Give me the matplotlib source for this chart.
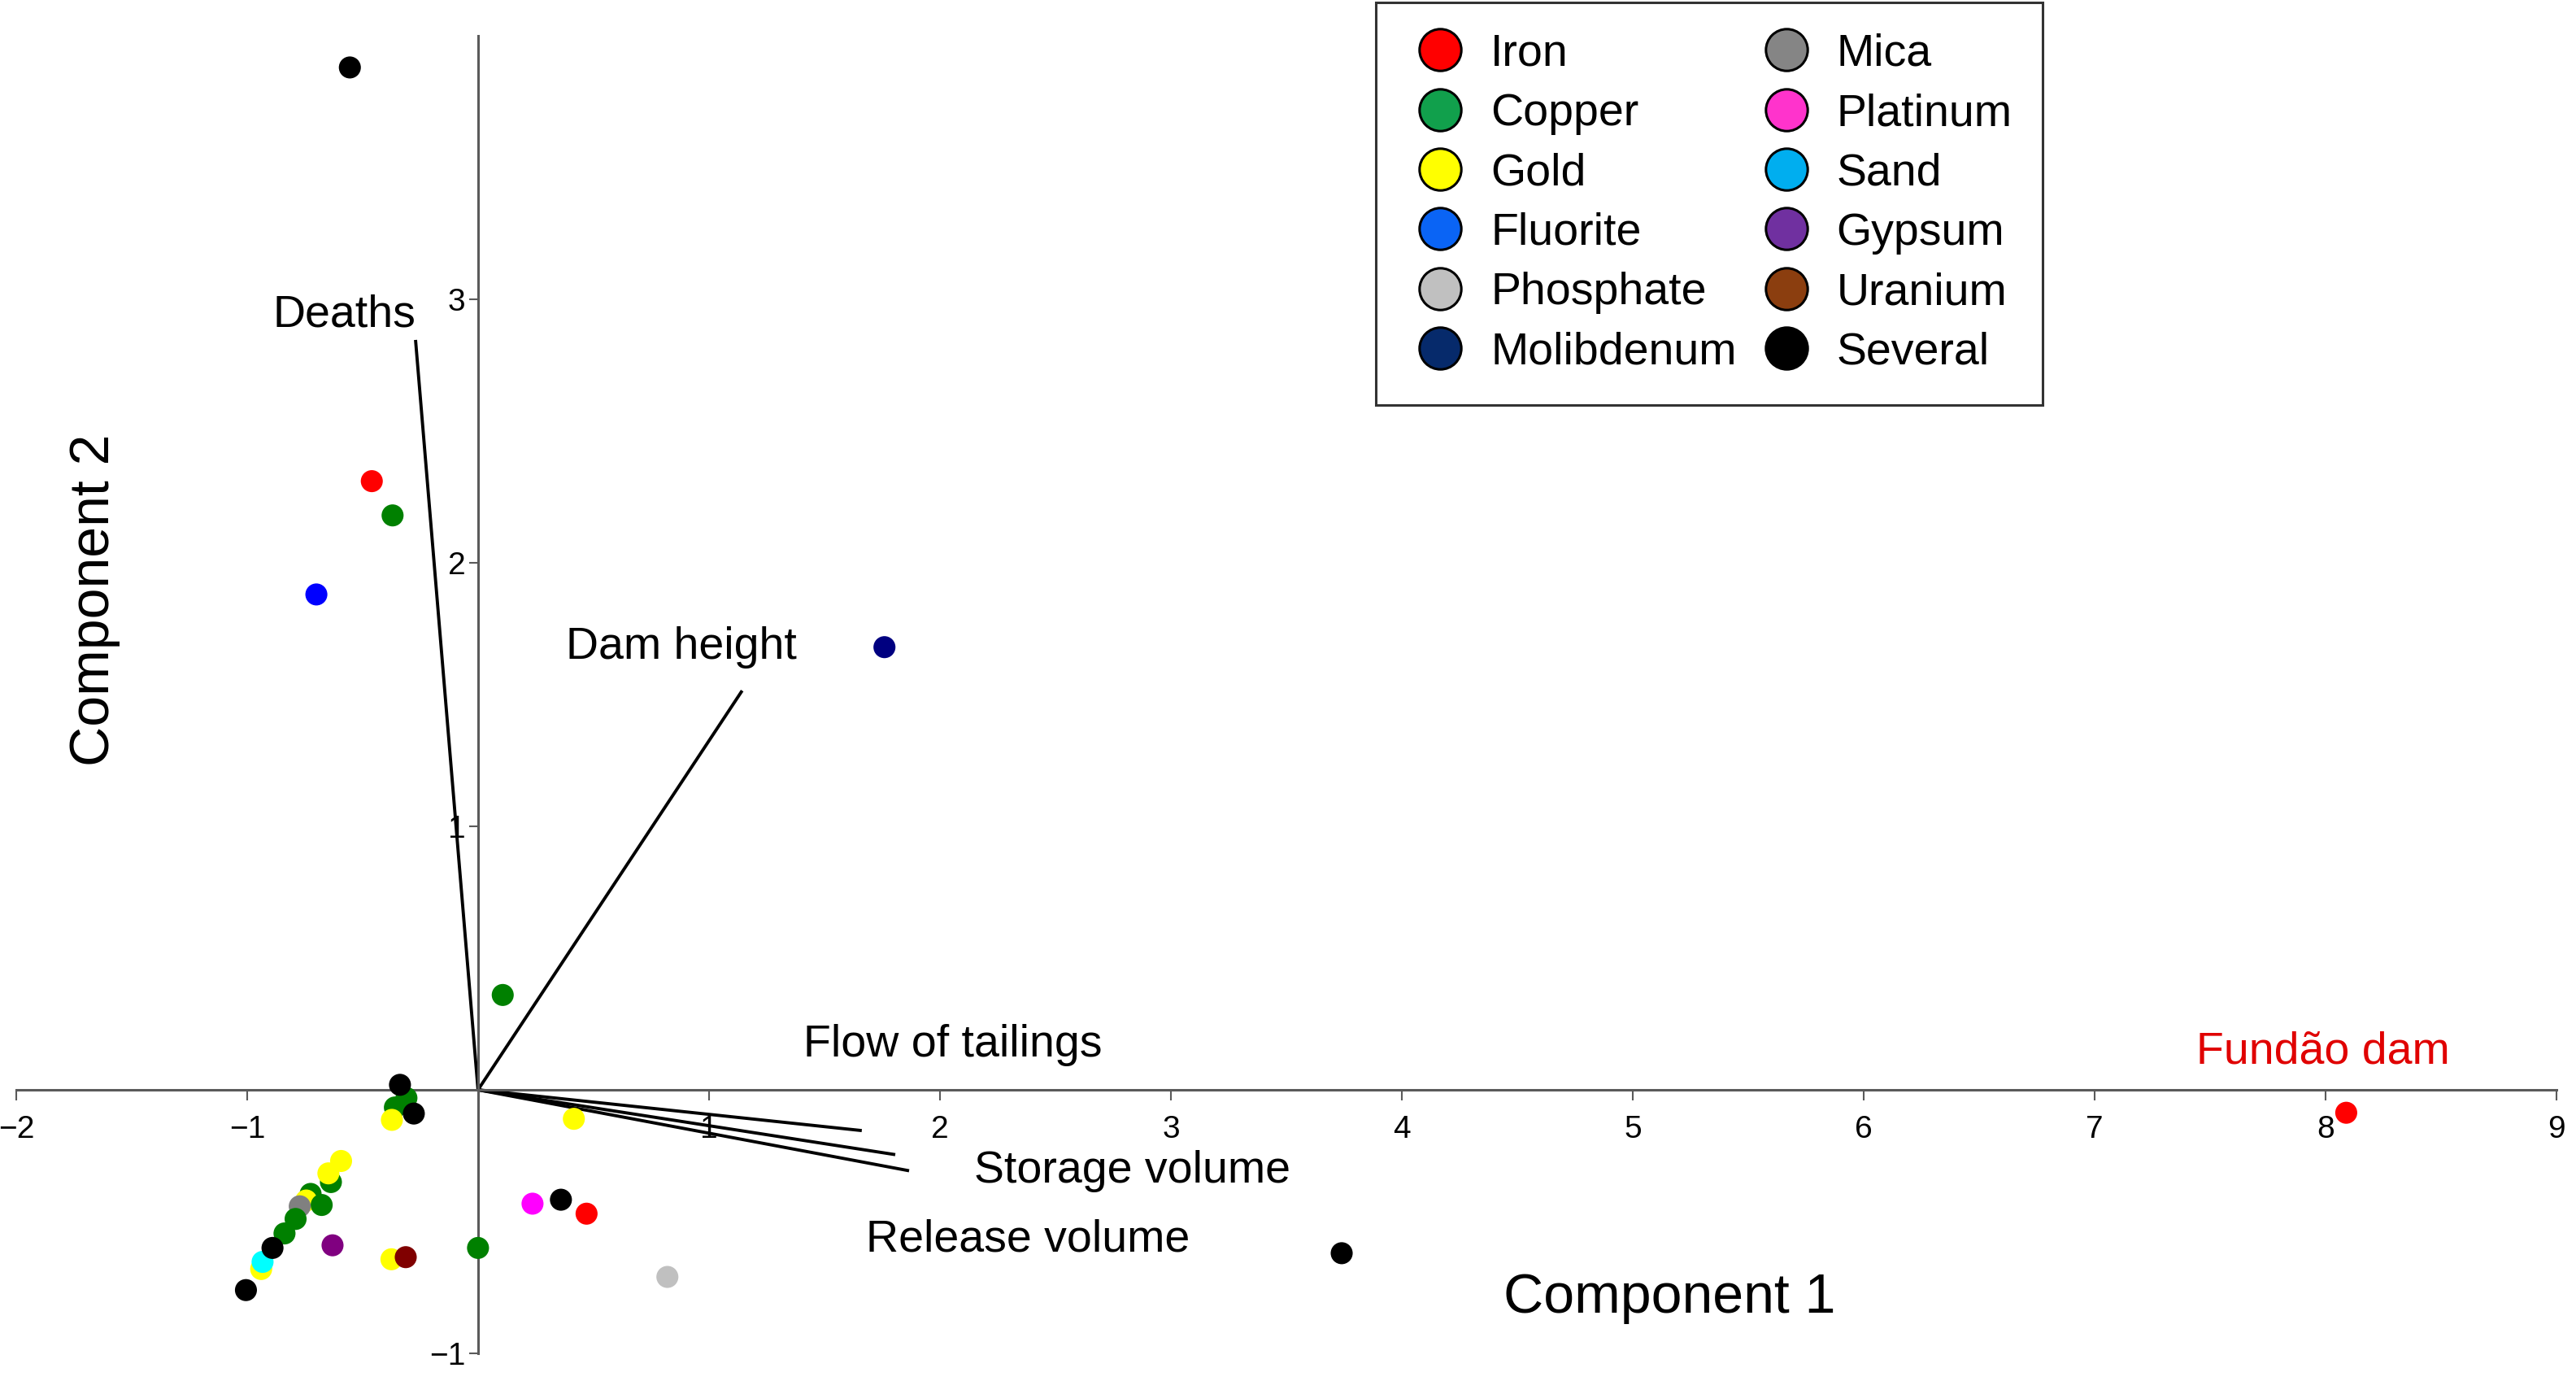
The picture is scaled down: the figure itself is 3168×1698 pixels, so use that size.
import numpy as np
import matplotlib
matplotlib.use('Agg')
import matplotlib.pyplot as plt
from matplotlib.lines import Line2D

plt.rcParams['font.family'] = ['Liberation Sans', 'DejaVu Sans']

# scores (component 1, component 2) and ore type of each dam
score_x = [-0.555, -0.46, -0.37, -0.70, 1.76, 0.107, 8.09, 3.74, 0.82,
           -0.31, -0.338, -0.36, -0.373, -0.278, 0.415,
           -0.593, -0.637, -0.648, -0.725, -0.744, -0.677, -0.772,
           -0.79, -0.838, -0.939, -0.933, -0.89, -1.005,
           -0.63, -0.375, -0.313, 0.0, 0.236, 0.359, 0.47]
score_y = [3.88, 2.31, 2.18, 1.88, 1.68, 0.36, -0.087, -0.62, -0.71,
           -0.031, 0.019, -0.067, -0.114, -0.09, -0.11,
           -0.27, -0.35, -0.317, -0.395, -0.42, -0.437, -0.442,
           -0.49, -0.545, -0.68, -0.653, -0.60, -0.76,
           -0.59, -0.643, -0.635, -0.60, -0.432, -0.417, -0.47]
ore = ['Several', 'Iron', 'Copper', 'Fluorite', 'Molibdenum', 'Copper', 'Iron', 'Several', 'Phosphate',
       'Copper', 'Several', 'Copper', 'Gold', 'Several', 'Gold',
       'Gold', 'Copper', 'Gold', 'Copper', 'Gold', 'Copper', 'Mica',
       'Copper', 'Copper', 'Gold', 'Sand', 'Several', 'Several',
       'Gypsum', 'Gold', 'Uranium', 'Copper', 'Platinum', 'Several', 'Iron']

# loadings of the variables
var_names = ['Deaths', 'Dam height', 'Flow of tailings', 'Storage volume', 'Release volume']
load_x = [-0.27, 1.14, 1.655, 1.80, 1.86]
load_y = [2.84, 1.51, -0.154, -0.245, -0.306]

# legend entries
ore_types = ['Iron', 'Copper', 'Gold', 'Fluorite', 'Phosphate', 'Molibdenum',
             'Mica', 'Platinum', 'Sand', 'Gypsum', 'Uranium', 'Several']
point_colors = {'Iron': '#ff0000', 'Copper': '#008000', 'Gold': '#ffff00', 'Fluorite': '#0000ff',
                'Phosphate': '#c0c0c0', 'Molibdenum': '#000080', 'Mica': '#808080',
                'Platinum': '#ff00ff', 'Sand': '#00ffff', 'Gypsum': '#800080',
                'Uranium': '#800000', 'Several': '#000000'}
legend_colors = {'Iron': '#ff0000', 'Copper': '#11a04c', 'Gold': '#ffff00', 'Fluorite': '#0a64f5',
                 'Phosphate': '#c0c0c0', 'Molibdenum': '#062a6b', 'Mica': '#858585',
                 'Platinum': '#ff33cc', 'Sand': '#00aeef', 'Gypsum': '#7030a0',
                 'Uranium': '#8b3e0f', 'Several': '#000000'}

fig = plt.figure(figsize=(31.68, 16.98), dpi=100)
ax = fig.add_axes([0, 0, 1, 1])
ax.set_xlim(-2.07, 9.085)
ax.set_ylim(-1.105, 4.136)

ax.scatter(score_x, score_y, s=380, c=[point_colors[o] for o in ore], linewidths=0, zorder=3)

for xv, yv in zip(load_x, load_y):
    ax.plot([0, xv], [0, yv], color='black', lw=2.8, zorder=2)

ax.text(-0.27, 2.94, 'Deaths', fontsize=40, ha='right', va='center')
ax.text(0.88, 1.68, 'Dam height', fontsize=40, ha='center', va='center')
ax.text(1.41, 0.17, 'Flow of tailings', fontsize=40, ha='left', va='center')
ax.text(2.15, -0.31, 'Storage volume', fontsize=40, ha='left', va='center')
ax.text(1.68, -0.57, 'Release volume', fontsize=40, ha='left', va='center')
ax.text(7.44, 0.143, 'Fundão dam', fontsize=40, ha='left', va='center', color='#e00000')
ax.text(5.16, -0.79, 'Component 1', fontsize=49, ha='center', va='center')
ax.text(-1.66, 1.86, 'Component 2', fontsize=49, ha='center', va='center', rotation=90)

# axes through the origin
for side in ['top', 'right']:
    ax.spines[side].set_visible(False)
ax.spines['left'].set_position(('data', 0))
ax.spines['bottom'].set_position(('data', 0))
ax.spines['left'].set_bounds(-1, 4)
ax.spines['bottom'].set_bounds(-2, 9)
for side in ['left', 'bottom']:
    ax.spines[side].set_color('#5a5a5a')
    ax.spines[side].set_linewidth(2.2)
ax.set_xticks([-2, -1, 1, 2, 3, 4, 5, 6, 7, 8, 9])
ax.set_yticks([-1, 1, 2, 3])
ax.tick_params(axis='x', direction='out', length=9, width=1.5, color='#5a5a5a', pad=13, labelsize=28)
ax.tick_params(axis='y', direction='out', length=8, width=1.5, color='#5a5a5a', pad=3, labelsize=28)

handles = [Line2D([], [], ls='none', marker='o', markersize=37, markerfacecolor=legend_colors[o],
                  markeredgecolor='black', markeredgewidth=2.2, label=o) for o in ore_types]
leg = fig.legend(handles=handles, ncol=2, loc='upper left', bbox_to_anchor=(1692 / 3168, 1 - 3 / 1698),
                 fontsize=40, frameon=True, fancybox=False, edgecolor='black', borderaxespad=0,
                 borderpad=0.68, handlelength=1.5, handletextpad=0.36, columnspacing=0.35,
                 labelspacing=0.385)
leg.get_frame().set_linewidth(2.2)

plt.savefig('out.png', dpi=100)
